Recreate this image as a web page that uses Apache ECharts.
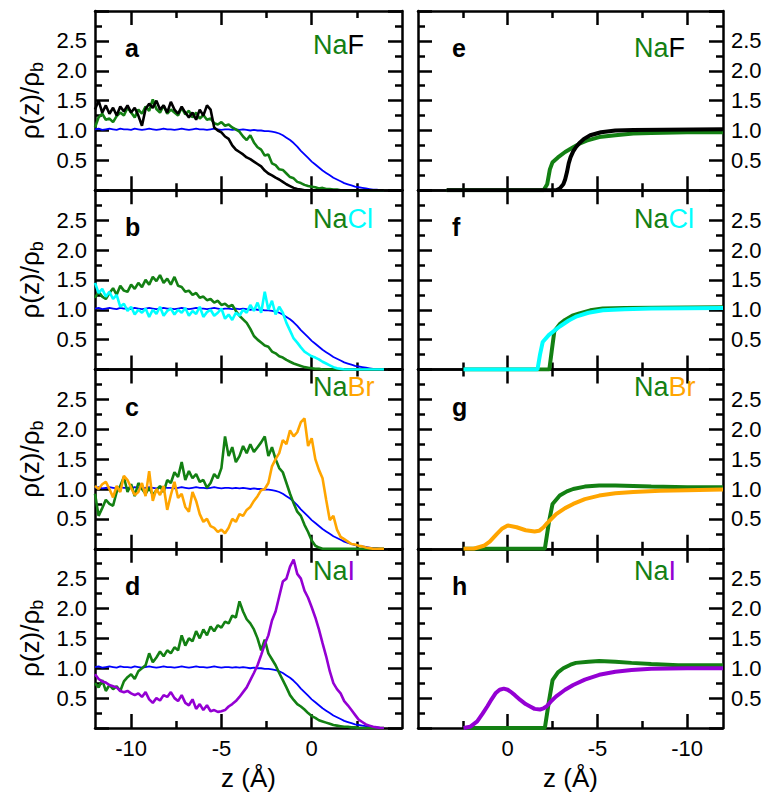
<!DOCTYPE html>
<html>
<head>
<meta charset="utf-8">
<script src="https://cdn.jsdelivr.net/npm/echarts@6/dist/echarts.min.js"></script>
<style>
html,body{margin:0;padding:0;background:#fff;}
#chart{width:770px;height:794px;}
</style>
</head>
<body>
<div id="chart"></div>
<script>
// ---------- DATA ----------
const zGrid = [-12,-11.8,-11.6,-11.4,-11.2,-11,-10.8,-10.6,-10.4,-10.2,-10,-9.8,-9.6,-9.4,-9.2,-9,-8.8,-8.6,-8.4,-8.2,-8,-7.8,-7.6,-7.4,-7.2,-7,-6.8,-6.6,-6.4,-6.2,-6,-5.8,-5.6,-5.4,-5.2,-5,-4.8,-4.6,-4.4,-4.2,-4,-3.8,-3.6,-3.4,-3.2,-3,-2.8,-2.6,-2.4,-2.2,-2,-1.8,-1.6,-1.4,-1.2,-1,-0.8,-0.6,-0.4,-0.2,0,0.2,0.4,0.6,0.8,1,1.2,1.4,1.6,1.8,2,2.2,2.4,2.6,2.8,3,3.2,3.4,3.6,3.8,4];

const waterBlue = [1.02,1.03,1.01,1.02,1.03,1.02,1.01,1.03,1.02,1.02, 1.01,1.03,1.02,1.01,1.02,1.03,1.02,1.01,1.02,1.03, 1.02,1.02,1.01,1.02,1.03,1.02,1.01,1.02,1.03,1.02, 1.02,1.01,1.02,1.03,1.02,1.01,1.02,1.02,1.01,1.02, 1.01,1.02,1.01,1.00,1.01,1.00,1.00,0.99,0.99,0.98, 0.97,0.95,0.92,0.88,0.84,0.79,0.73,0.66,0.60,0.54, 0.48,0.43,0.38,0.33,0.29,0.25,0.21,0.18,0.15,0.12, 0.10,0.08,0.06,0.05,0.04,0.03,0.02,0.01,0.01,0.0,0.0];

const naF_Na = [1.05,1.22,1.28,1.18,1.2,1.14,1.24,1.3,1.25,1.38, 1.3,1.22,1.35,1.28,1.4,1.33,1.52,1.36,1.3,1.42, 1.28,1.35,1.3,1.25,1.38,1.27,1.33,1.22,1.3,1.2, 1.26,1.18,1.2,1.12,1.1,1.14,1.08,1.1,1.05,1.02, 0.98,0.9,0.84,0.92,0.8,0.72,0.68,0.58,0.6,0.45, 0.42,0.35,0.34,0.28,0.22,0.2,0.14,0.12,0.09,0.07, 0.06,0.05,0.03,0.04,0.02,0.02,0.01,0.01,0,0, 0,0,0,0,0,0,0,0,0,0,0];
const naF_F = [1.35,1.5,1.3,1.42,1.28,1.38,1.25,1.4,1.32,1.42, 1.3,1.38,1.25,1.08,1.36,1.45,1.38,1.5,1.35,1.42, 1.3,1.48,1.35,1.28,1.4,1.3,1.22,1.3,1.18,1.35, 1.25,1.42,1.35,1.05,1.0,0.97,0.9,0.86,0.75,0.68, 0.64,0.6,0.55,0.52,0.48,0.44,0.4,0.33,0.28,0.25, 0.21,0.18,0.14,0.1,0.07,0.04,0.02,0.01,0,0, 0,0,0,0,0,0,0,0,0,0, 0,0,0,0,0,0,0,0,0,0,0];
const naCl_Na = [1.2,1.3,1.22,1.18,1.28,1.36,1.25,1.4,1.32,1.3, 1.42,1.35,1.45,1.38,1.5,1.42,1.55,1.48,1.58,1.45, 1.52,1.42,1.55,1.4,1.38,1.3,1.32,1.25,1.28,1.2, 1.22,1.16,1.18,1.12,1.15,1.08,1.1,1.05,1.08,0.98, 0.9,0.84,0.78,0.68,0.56,0.5,0.45,0.4,0.38,0.3, 0.27,0.22,0.2,0.16,0.13,0.1,0.08,0.06,0.04,0.03, 0.02,0.01,0.01,0,0,0,0,0,0,0, 0,0,0,0,0,0,0,0,0,0,0];
const naCl_Cl = [1.45,1.28,1.35,1.22,1.3,1.18,1.25,1.05,1.1,0.98, 1.05,0.92,1.0,0.95,1.02,0.88,1.0,0.93,1.05,0.9, 0.98,1.02,0.92,1.0,0.95,1.03,0.9,0.98,0.93,1.05, 0.88,0.96,1.0,0.9,0.95,1.02,0.85,0.92,0.83,0.95, 0.9,1.0,0.95,1.08,0.98,1.12,0.95,1.3,1.0,1.15, 0.92,1.05,0.95,0.78,0.65,0.52,0.45,0.37,0.3,0.26, 0.22,0.2,0.17,0.13,0.1,0.07,0.04,0.02,0.01,0, 0,0,0,0,0,0,0,0,0,0,0];
const naBr_Na = [0.92,0.55,0.68,0.82,0.75,0.72,0.95,1.05,1.2,0.95, 1.08,0.88,1.1,1.0,0.92,1.02,0.9,0.98,1.05,0.95, 1.15,1.1,1.28,1.2,1.45,1.15,1.3,1.18,1.25,1.12, 1.15,1.02,1.1,1.25,1.18,1.35,1.88,1.55,1.7,1.45, 1.55,1.72,1.6,1.75,1.62,1.7,1.78,1.88,1.55,1.7, 1.5,1.35,1.28,1.1,0.92,0.76,0.62,0.55,0.4,0.28, 0.14,0.05,0.02,0,0,0,0,0,0,0, 0,0,0,0,0,0,0,0,0,0,0];
const naBr_Br = [1.05,1.0,1.08,1.12,1.0,0.86,1.05,0.95,1.22,1.15, 1.02,0.9,0.95,1.1,0.88,1.3,0.8,1.0,0.9,1.05, 0.65,0.9,1.12,0.85,0.92,0.7,0.62,0.95,0.8,0.58, 0.45,0.5,0.38,0.35,0.28,0.32,0.26,0.35,0.5,0.45, 0.58,0.55,0.65,0.7,0.8,0.88,0.98,1.0,1.1,1.38, 1.5,1.6,1.82,1.75,1.98,1.88,1.95,2.12,2.18,1.72, 1.85,1.5,1.32,1.18,0.82,0.48,0.55,0.32,0.2,0.16, 0.12,0.08,0.07,0.05,0.04,0.02,0.01,0,0,0,0];
const naI_Na = [0.75,0.68,0.8,0.62,0.72,0.65,0.7,0.62,0.78,0.85, 0.9,0.82,0.95,1.0,1.05,1.25,1.1,1.18,1.28,1.2, 1.3,1.25,1.35,1.3,1.55,1.38,1.5,1.45,1.62,1.5, 1.65,1.55,1.7,1.62,1.72,1.68,1.78,1.75,1.88,1.85, 2.12,1.95,1.82,1.75,1.65,1.5,1.3,1.48,1.25,1.15, 1.05,0.92,0.8,0.68,0.55,0.47,0.4,0.36,0.31,0.25, 0.2,0.17,0.13,0.11,0.09,0.07,0.05,0.04,0.03,0.02, 0.02,0.01,0.01,0,0,0,0,0,0,0,0];
const naI_I = [0.9,0.82,0.78,0.76,0.72,0.7,0.68,0.62,0.6,0.62, 0.58,0.55,0.58,0.52,0.6,0.48,0.42,0.5,0.46,0.55, 0.52,0.6,0.5,0.45,0.55,0.42,0.38,0.48,0.32,0.4, 0.3,0.38,0.28,0.3,0.27,0.28,0.3,0.36,0.4,0.45, 0.52,0.6,0.68,0.8,0.92,1.05,1.22,1.4,1.55,1.8, 1.95,2.2,2.45,2.5,2.7,2.82,2.58,2.5,2.3,2.18, 2.02,1.85,1.65,1.42,1.2,0.95,0.75,0.65,0.58,0.45, 0.38,0.3,0.22,0.14,0.1,0.06,0.04,0.02,0.01,0,0];

// right-hand (smooth) profiles: [z, rho]
const eNa = [[3.4,0],[-2.0,0],[-2.2,0.1],[-2.35,0.35],[-2.5,0.47],[-2.8,0.55],[-3.2,0.64],[-3.65,0.72],[-4.0,0.78],[-4.4,0.83],[-5.1,0.89],[-6,0.92],[-7,0.95],[-8,0.96],[-10,0.97],[-12,0.97]];
const eF = [[3.4,0],[-2.7,0],[-2.9,0.03],[-3.1,0.1],[-3.2,0.18],[-3.3,0.3],[-3.4,0.45],[-3.5,0.55],[-3.65,0.65],[-3.8,0.72],[-4.0,0.79],[-4.25,0.86],[-4.6,0.92],[-5.2,0.97],[-6,1.0],[-7,1.01],[-12,1.02]];
const fNa = [[2.46,0],[-2.32,0],[-2.45,0.3],[-2.6,0.64],[-2.9,0.76],[-3.2,0.83],[-3.6,0.9],[-4.0,0.94],[-4.6,0.99],[-5.3,1.02],[-6.5,1.03],[-12,1.04]];
const fCl = [[2.46,0],[-1.66,0],[-1.8,0.25],[-1.95,0.46],[-2.3,0.58],[-2.9,0.72],[-3.4,0.82],[-3.85,0.89],[-4.5,0.95],[-5.3,0.99],[-6.5,1.01],[-8,1.02],[-12,1.03]];
const gNa = [[2.46,0],[-2.07,0],[-2.3,0.45],[-2.5,0.75],[-2.9,0.89],[-3.3,0.96],[-3.65,1.0],[-4.3,1.04],[-5.1,1.06],[-6,1.06],[-7,1.05],[-8,1.04],[-10,1.03],[-12,1.03]];
const gBr = [[2.46,0],[1.9,0],[1.33,0.05],[1.0,0.12],[0.6,0.25],[0.3,0.34],[0,0.39],[-0.5,0.36],[-1.0,0.31],[-1.5,0.29],[-1.75,0.3],[-2.0,0.36],[-2.2,0.43],[-2.7,0.58],[-3.2,0.68],[-3.65,0.75],[-4.3,0.83],[-5.1,0.89],[-6,0.93],[-7,0.95],[-8.5,0.97],[-10,0.98],[-12,0.99]];
const hNa = [[2.46,0],[-2.07,0],[-2.3,0.45],[-2.5,0.8],[-2.8,0.93],[-3.1,1.0],[-3.5,1.06],[-3.8,1.09],[-4.5,1.11],[-5.1,1.12],[-6,1.11],[-6.9,1.09],[-8,1.07],[-9.5,1.05],[-12,1.05]];
const hI = [[2.46,0],[2.1,0.02],[1.7,0.11],[1.4,0.24],[1.14,0.36],[0.9,0.48],[0.68,0.58],[0.45,0.64],[0.22,0.66],[0,0.64],[-0.15,0.61],[-0.4,0.55],[-0.7,0.47],[-1.0,0.4],[-1.25,0.36],[-1.5,0.32],[-1.8,0.31],[-2.0,0.33],[-2.16,0.36],[-2.4,0.44],[-2.7,0.53],[-3.2,0.64],[-3.65,0.72],[-4.3,0.81],[-5.1,0.89],[-6,0.94],[-6.9,0.97],[-8,0.99],[-10,1.0],[-12,1.0]];

const majorX = [-10,-5,0];
const minorX = [-7.5,-2.5,2.5];
const panelLetters = ['a','b','c','d','e','f','g','h'];
const saltNames = [['Na','F'],['Na','Cl'],['Na','Br'],['Na','I']];
const yTitle = '{m|ρ(z)/ρ}{s|b}';
const xTitle = 'z (Å)';

// ---------- STYLE / LAYOUT ----------
const C = {green:'#138013', black:'#000000', blue:'#0000ff', cyan:'#00ffff', orange:'#ffa500', purple:'#9400d3'};
const anionColor = [C.black, C.cyan, C.orange, C.purple];
const FONT = '"Liberation Sans", Arial, Helvetica, sans-serif';
const tops = [11, 190.25, 369.5, 548.75];
const H = 179.25;
const LX = 95, LW = 307, RX = 418, RW = 305;

const grids = [], xAxes = [], yAxes = [], series = [], titles = [];
function tickLS() { return {color:'#000', width:2.5}; }
function axLine() { return {show:true, onZero:false, lineStyle:{color:'#000', width:2.5}}; }

function addPanel(g, isRight, row) {
  grids.push({left: isRight ? RX : LX, top: tops[row], width: isRight ? RW : LW, height: H, show:false});
  const lastRow = row === 3;
  ['bottom','top'].forEach(pos => {
    const withName = pos === 'bottom' && lastRow;
    xAxes.push({gridIndex:g, type:'value', min:-12, max:5, inverse:isRight, splitLine:{show:false}, position:pos,
      name: withName ? xTitle : '', nameLocation:'middle', nameGap:37,
      nameTextStyle:{fontSize:26, color:'#000', fontFamily:FONT},
      axisLine: axLine(),
      axisTick:{show:true, inside:true, length:14, customValues:majorX.slice(), lineStyle:tickLS()},
      axisLabel: withName
        ? {show:true, customValues:majorX.slice(), margin:9, fontSize:22, color:'#000', fontFamily:FONT}
        : {show:false}});
    xAxes.push({gridIndex:g, type:'value', min:-12, max:5, inverse:isRight, splitLine:{show:false}, position:pos,
      axisLine:{show:false, onZero:false},
      axisTick:{show:true, inside:true, length:7, customValues:minorX.slice(), lineStyle:tickLS()},
      axisLabel:{show:false}});
  });
  ['left','right'].forEach(pos => {
    const showLab = (pos === 'left') !== isRight;
    const withName = pos === 'left' && !isRight;
    yAxes.push({gridIndex:g, type:'value', min:0, max:3, interval:0.5, position:pos, splitLine:{show:false},
      name: withName ? yTitle : '', nameLocation:'middle', nameRotate:90, nameGap:49,
      nameTextStyle:{color:'#000', rich:{m:{color:'#000', fontSize:26, fontFamily:FONT}, s:{color:'#000', fontSize:18, fontFamily:FONT, padding:[14,0,0,0]}}},
      axisLine: axLine(),
      axisTick:{show:true, inside:true, length:14, lineStyle:tickLS()},
      minorTick:{show:true, splitNumber:2, length:7, lineStyle:tickLS()},
      axisLabel:{show:showLab, margin:8, fontSize:22, color:'#000', fontFamily:FONT,
        formatter: v => (v > 0.01 && v < 2.99) ? v.toFixed(1) : ''}});
  });
}
for (let r = 0; r < 4; r++) addPanel(r, false, r);
for (let r = 0; r < 4; r++) addPanel(4 + r, true, r);

function pairs(arr) { return zGrid.map((z, i) => [z, arr[i]]); }
function addLine(g, data, color, width) {
  series.push({type:'line', xAxisIndex:g*4, yAxisIndex:g*2, data:data, showSymbol:false,
    lineStyle:{color:color, width:width}});
}
addLine(0, pairs(waterBlue), C.blue, 1.8);
addLine(0, pairs(naF_Na), C.green, 2.6);
addLine(0, pairs(naF_F), C.black, 2.6);
addLine(1, pairs(waterBlue), C.blue, 1.8);
addLine(1, pairs(naCl_Na), C.green, 2.6);
addLine(1, pairs(naCl_Cl), C.cyan, 2.6);
addLine(2, pairs(waterBlue), C.blue, 1.8);
addLine(2, pairs(naBr_Na), C.green, 2.6);
addLine(2, pairs(naBr_Br), C.orange, 2.6);
addLine(3, pairs(waterBlue), C.blue, 1.8);
addLine(3, pairs(naI_Na), C.green, 2.6);
addLine(3, pairs(naI_I), C.purple, 2.6);
addLine(4, eNa, C.green, 4);
addLine(4, eF, C.black, 4);
addLine(5, fNa, C.green, 4);
addLine(5, fCl, C.cyan, 4);
addLine(6, gNa, C.green, 4);
addLine(6, gBr, C.orange, 4);
addLine(7, hNa, C.green, 4);
addLine(7, hI, C.purple, 4);

// panel letters and salt names (title components)
const saltDy = [34, 29, 17.5, 22];
for (let r = 0; r < 4; r++) {
  [false, true].forEach(isRight => {
    const idx = isRight ? 4 + r : r;
    titles.push({text: panelLetters[idx], left: isRight ? 452 : 125, top: tops[r] + 37 - 13, padding:0,
      textStyle:{color:'#000', fontSize:25, fontWeight:'bold', fontFamily:FONT, lineHeight:26}});
    titles.push({text: '{a|' + saltNames[r][0] + '}{b|' + saltNames[r][1] + '}',
      left: isRight ? 634 : 313, top: tops[r] + saltDy[r] + (isRight && r === 0 ? 3 : 0) - 14, padding:0,
      textStyle:{fontSize:27, fontWeight:'normal', fontFamily:FONT, lineHeight:28,
        rich:{a:{color:C.green, fontSize:27, fontWeight:'normal', fontFamily:FONT, lineHeight:28},
              b:{color:anionColor[r], fontSize:27, fontWeight:'normal', fontFamily:FONT, lineHeight:28}}}});
  });
}

const chart = echarts.init(document.getElementById('chart'), null, {renderer:'svg', width:770, height:794});
chart.setOption({animation:false, backgroundColor:'#fff', title:titles, grid:grids, xAxis:xAxes, yAxis:yAxes, series:series});
// make sure every axis element (ticks included) is painted
function repaint() {
  const zr = chart.getZr();
  zr.storage.getDisplayList(true);
  zr.refresh();
}
[0, 60, 150, 300].forEach(t => setTimeout(repaint, t));
</script>
</body>
</html>
